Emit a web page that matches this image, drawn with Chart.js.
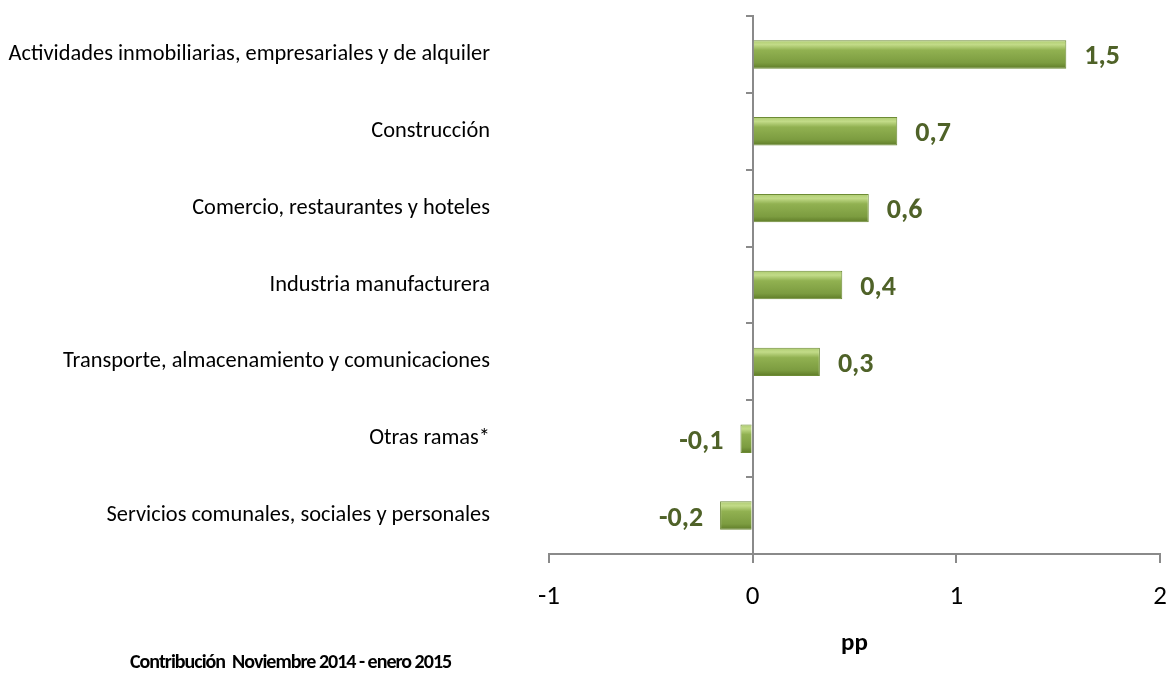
<!DOCTYPE html>
<html lang="es">
<head>
<meta charset="utf-8">
<title>Contribución Noviembre 2014 - enero 2015</title>
<script src="https://cdn.jsdelivr.net/npm/chart.js@4"></script>
<style>
  html, body { margin: 0; padding: 0; background: #fff; }
  #wrap { position: relative; width: 1170px; height: 677px; }
  #note {
    position: absolute; left: 130px; top: 650px;
    font: bold 20px Carlito, Lato, sans-serif;
    letter-spacing: -1px;
    line-height: 22px;
    color: #000; white-space: pre;
  }
</style>
</head>
<body>
<div id="wrap">
  <canvas id="chart" width="1170" height="677"></canvas>
  <div id="note">Contribución  Noviembre 2014 - enero 2015</div>
</div>
<script>
// ── Data ────────────────────────────────────────────────────
const categories = [
  "Actividades inmobiliarias, empresariales y de alquiler",
  "Construcción",
  "Comercio, restaurantes y hoteles",
  "Industria manufacturera",
  "Transporte, almacenamiento y comunicaciones",
  "Otras ramas*",
  "Servicios comunales, sociales y personales",
];
const contribution = [1.54, 0.71, 0.57, 0.44, 0.33, -0.06, -0.16];
const xTicks = [-1, 0, 1, 2];

const FONT = "Carlito, Lato, sans-serif";
const AXIS_GRAY = "#8a8a8a";
const LABEL_GREEN = "#4f6228";

Chart.defaults.font.family = FONT;

// Beveled green look: vertical gradient for every bar
function barGradient(ctx) {
  const chart = ctx.chart;
  const yScale = chart.scales.y;
  if (!chart.chartArea || !yScale) return "#8fb04c";
  const yc = yScale.getPixelForValue(ctx.dataIndex);
  const g = chart.ctx.createLinearGradient(0, yc - 14, 0, yc + 14);
  g.addColorStop(0, "#afcc72");
  g.addColorStop(0.15, "#c2db88");
  g.addColorStop(0.35, "#91b151");
  g.addColorStop(0.8, "#7c9c40");
  g.addColorStop(1, "#5f7c28");
  return g;
}

// Value labels next to the end of each bar
const valueLabels = {
  id: "valueLabels",
  afterDatasetsDraw(chart) {
    const { ctx } = chart;
    const meta = chart.getDatasetMeta(0);
    ctx.save();
    ctx.font = `bold 28px ${FONT}`;
    ctx.fillStyle = LABEL_GREEN;
    ctx.textBaseline = "middle";
    meta.data.forEach((bar, i) => {
      const v = contribution[i];
      const text = v.toFixed(1).replace(".", ",");
      if (v >= 0) {
        ctx.textAlign = "left";
        ctx.fillText(text, bar.x + 18, bar.y + 3);
      } else {
        ctx.textAlign = "right";
        ctx.fillText(text, bar.x - 17, bar.y + 3);
      }
    });
    ctx.restore();
  },
};

// the scales add their tick padding to the layout padding; drop it
function noScalePadding(s) {
  s.paddingTop = 0;
  s.paddingBottom = 0;
  s.paddingLeft = 0;
  s.paddingRight = 0;
}

new Chart(document.getElementById("chart"), {
  type: "bar",
  data: {
    labels: categories,
    datasets: [
      {
        data: contribution,
        backgroundColor: barGradient,
        borderColor: "#6d8b35",
        borderWidth: 1,
        categoryPercentage: 1,
        barPercentage: 0.37,
      },
    ],
  },
  options: {
    indexAxis: "y",
    responsive: false,
    animation: false,
    layout: { padding: { top: 16, right: 10, left: 0, bottom: 0 } },
    plugins: { legend: { display: false }, tooltip: { enabled: false } },
    scales: {
      x: {
        min: -1,
        max: 2,
        afterBuildTicks: (s) => { s.ticks = xTicks.map((v) => ({ value: v })); },
        ticks: { font: { size: 27 }, color: "#000", padding: 18 },
        grid: { drawOnChartArea: false, tickLength: 9, color: AXIS_GRAY, lineWidth: 2 },
        border: { color: AXIS_GRAY, width: 2 },
        title: {
          display: true,
          text: "pp",
          font: { size: 25, weight: "bold" },
          color: "#000",
          padding: { top: 4, bottom: 18 },
        },
        afterFit: (s) => { s.height = 123; noScalePadding(s); },
      },
      y: {
        grid: { display: false },
        border: { display: false },
        ticks: { font: { size: 22.4 }, color: "#000", padding: 51 },
        afterFit: (s) => { s.width = 549; noScalePadding(s); },
      },
      // vertical axis line with its tick marks, crossing at x = 0
      yZero: {
        type: "category",
        axis: "y",
        labels: categories,
        position: { x: 0 },
        offset: true,
        ticks: { display: false },
        grid: { drawOnChartArea: false, offset: true, tickLength: 6, color: AXIS_GRAY, lineWidth: 2 },
        border: { color: AXIS_GRAY, width: 2 },
      },
    },
  },
  plugins: [valueLabels],
});
</script>
</body>
</html>
